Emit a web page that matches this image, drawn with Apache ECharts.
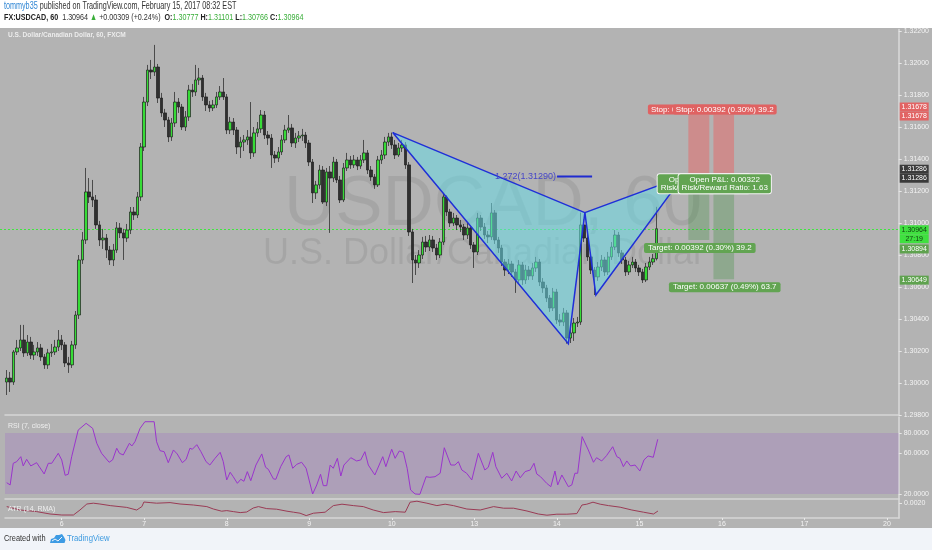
<!DOCTYPE html>
<html><head><meta charset="utf-8">
<script src="https://cdn.jsdelivr.net/npm/echarts@6/dist/echarts.min.js"></script>
<style>html,body{margin:0;padding:0;background:#b3b3b3;}#c{width:932px;height:550px;}</style>
</head><body><div id="c"></div>
<script>
// ---------- DATA ----------
const days = ['5','6','7','8','9','10','13','14','15','16','17','20'];
const firstHour = 8;
const slotCount = 260;

const open = [
1.30006,1.30031,1.30006,1.30194,1.30219,1.30269,1.30188,1.30256,1.30175,1.30194,
1.30219,1.30163,1.30113,1.30188,1.30194,1.30225,1.30269,1.30238,1.30125,1.30113,
1.30238,1.30425,1.30769,1.30894,1.31194,1.31163,1.31144,1.30988,1.30894,1.30906,
1.30831,1.30769,1.30831,1.30969,1.30938,1.30906,1.30956,1.31069,1.31050,1.31163,
1.31475,1.31756,1.31956,1.31944,1.31975,1.31781,1.31688,1.31644,1.31538,1.31625,
1.31756,1.31725,1.31600,1.31663,1.31831,1.31819,1.31894,1.31906,1.31788,1.31738,
1.31719,1.31738,1.31788,1.31819,1.31788,1.31581,1.31631,1.31581,1.31475,1.31506,
1.31519,1.31538,1.31438,1.31563,1.31588,1.31675,1.31550,1.31531,1.31425,1.31406,
1.31444,1.31519,1.31581,1.31594,1.31500,1.31531,1.31544,1.31550,1.31500,1.31381,
1.31188,1.31238,1.31331,1.31131,1.31319,1.31281,1.31381,1.31269,1.31144,1.31344,
1.31394,1.31363,1.31394,1.31356,1.31394,1.31438,1.31331,1.31288,1.31238,1.31394,
1.31425,1.31506,1.31538,1.31488,1.31425,1.31469,1.31488,1.31363,1.30944,1.30769,
1.30750,1.30800,1.30881,1.30850,1.30894,1.30844,1.30800,1.30881,1.31163,1.31069,
1.31000,1.31031,1.30988,1.30975,1.30925,1.30969,1.30863,1.30819,1.31031,1.30975,
1.30925,1.30913,1.31063,1.30894,1.30844,1.30756,1.30706,1.30744,1.30694,1.30644,
1.30738,1.30644,1.30706,1.30669,1.30719,1.30756,1.30631,1.30594,1.30531,1.30469,
1.30569,1.30394,1.30381,1.30438,1.30281,1.30313,1.30375,1.30381,1.30988,1.30906,
1.30788,1.30706,1.30663,1.30725,1.30769,1.30694,1.30788,1.30850,1.30925,1.30813,
1.30769,1.30694,1.30738,1.30756,1.30719,1.30694,1.30644,1.30725,1.30756,1.30777];

const close = [
1.30031,1.30006,1.30194,1.30219,1.30269,1.30188,1.30256,1.30175,1.30194,1.30219,
1.30163,1.30113,1.30188,1.30194,1.30225,1.30269,1.30238,1.30125,1.30113,1.30238,
1.30425,1.30769,1.30894,1.31194,1.31163,1.31144,1.30988,1.30894,1.30906,1.30831,
1.30769,1.30831,1.30969,1.30938,1.30906,1.30956,1.31069,1.31050,1.31163,1.31475,
1.31756,1.31956,1.31944,1.31975,1.31781,1.31688,1.31644,1.31538,1.31625,1.31756,
1.31725,1.31600,1.31663,1.31831,1.31819,1.31894,1.31906,1.31788,1.31738,1.31719,
1.31738,1.31788,1.31819,1.31788,1.31581,1.31631,1.31581,1.31475,1.31506,1.31519,
1.31538,1.31438,1.31563,1.31588,1.31675,1.31550,1.31531,1.31425,1.31406,1.31444,
1.31519,1.31581,1.31594,1.31500,1.31531,1.31544,1.31550,1.31500,1.31381,1.31188,
1.31238,1.31331,1.31131,1.31319,1.31281,1.31381,1.31269,1.31144,1.31344,1.31394,
1.31363,1.31394,1.31356,1.31394,1.31438,1.31331,1.31288,1.31238,1.31394,1.31425,
1.31506,1.31538,1.31488,1.31425,1.31469,1.31488,1.31363,1.30944,1.30769,1.30750,
1.30800,1.30881,1.30850,1.30894,1.30844,1.30800,1.30881,1.31163,1.31069,1.31000,
1.31031,1.30988,1.30975,1.30925,1.30969,1.30863,1.30819,1.31031,1.30975,1.30925,
1.30913,1.31063,1.30894,1.30844,1.30756,1.30706,1.30744,1.30694,1.30644,1.30738,
1.30644,1.30706,1.30669,1.30719,1.30756,1.30631,1.30594,1.30531,1.30469,1.30569,
1.30394,1.30381,1.30438,1.30281,1.30313,1.30375,1.30381,1.30988,1.30906,1.30788,
1.30706,1.30663,1.30725,1.30769,1.30694,1.30788,1.30850,1.30925,1.30813,1.30769,
1.30694,1.30738,1.30756,1.30719,1.30694,1.30644,1.30725,1.30756,1.30777,1.30964];

const high = [
1.30081,1.30069,1.30206,1.30269,1.30363,1.30363,1.30300,1.30288,1.30238,1.30256,
1.30244,1.30181,1.30213,1.30244,1.30269,1.30331,1.30300,1.30256,1.30163,1.30263,
1.30450,1.30800,1.30944,1.31344,1.31281,1.31269,1.31175,1.31013,1.30963,1.30931,
1.30856,1.30869,1.31006,1.31000,1.30963,1.30994,1.31100,1.31100,1.31194,1.31500,
1.31788,1.31988,1.32019,1.32113,1.31994,1.31813,1.31713,1.31663,1.31656,1.31819,
1.31781,1.31744,1.31700,1.31863,1.31869,1.31988,1.31969,1.31925,1.31813,1.31763,
1.31769,1.31819,1.31856,1.31906,1.31806,1.31663,1.31656,1.31600,1.31538,1.31550,
1.31581,1.31756,1.31600,1.31631,1.31706,1.31700,1.31575,1.31556,1.31450,1.31475,
1.31550,1.31613,1.31675,1.31619,1.31563,1.31575,1.31588,1.31569,1.31519,1.31400,
1.31263,1.31363,1.31356,1.31344,1.31356,1.31413,1.31400,1.31294,1.31375,1.31438,
1.31419,1.31425,1.31413,1.31425,1.31519,1.31456,1.31356,1.31306,1.31419,1.31456,
1.31538,1.31563,1.31565,1.31519,1.31500,1.31519,1.31506,1.31381,1.30963,1.30800,
1.30831,1.30913,1.30919,1.30925,1.30919,1.30869,1.30906,1.31188,1.31175,1.31088,
1.31063,1.31050,1.31019,1.30994,1.31000,1.30988,1.30881,1.31063,1.31050,1.31000,
1.30950,1.31125,1.31081,1.30913,1.30863,1.30775,1.30775,1.30763,1.30713,1.30769,
1.30756,1.30738,1.30731,1.30750,1.30788,1.30775,1.30656,1.30613,1.30550,1.30594,
1.30588,1.30431,1.30469,1.30456,1.30344,1.30406,1.30413,1.31065,1.31025,1.30931,
1.30806,1.30725,1.30756,1.30800,1.30788,1.30819,1.30881,1.30956,1.30944,1.30831,
1.30788,1.30763,1.30788,1.30775,1.30738,1.30713,1.30750,1.30788,1.30806,1.31101];

const low = [
1.29925,1.29944,1.29988,1.30175,1.30200,1.30163,1.30169,1.30150,1.30144,1.30169,
1.30138,1.30088,1.30088,1.30163,1.30175,1.30200,1.30206,1.30100,1.30063,1.30094,
1.30213,1.30400,1.30744,1.30869,1.31125,1.31100,1.30963,1.30856,1.30838,1.30781,
1.30738,1.30731,1.30813,1.30906,1.30769,1.30881,1.30931,1.31019,1.31031,1.31138,
1.31450,1.31731,1.31900,1.31919,1.31750,1.31663,1.31600,1.31506,1.31513,1.31600,
1.31688,1.31581,1.31575,1.31638,1.31788,1.31794,1.31863,1.31763,1.31700,1.31694,
1.31700,1.31719,1.31769,1.31769,1.31556,1.31556,1.31550,1.31431,1.31406,1.31450,
1.31488,1.31400,1.31413,1.31538,1.31563,1.31525,1.31488,1.31344,1.31375,1.31381,
1.31425,1.31500,1.31563,1.31475,1.31469,1.31506,1.31513,1.31469,1.31356,1.31125,
1.31150,1.31213,1.31119,1.31106,1.30938,1.31256,1.31250,1.31125,1.31131,1.31325,
1.31338,1.31344,1.31331,1.31338,1.31375,1.31306,1.31263,1.31213,1.31225,1.31369,
1.31400,1.31481,1.31463,1.31400,1.31413,1.31444,1.31338,1.30919,1.30625,1.30675,
1.30719,1.30775,1.30819,1.30825,1.30819,1.30769,1.30781,1.30863,1.31044,1.30975,
1.30981,1.30956,1.30944,1.30894,1.30900,1.30838,1.30719,1.30800,1.30950,1.30900,
1.30875,1.30894,1.30869,1.30813,1.30731,1.30669,1.30681,1.30663,1.30563,1.30619,
1.30613,1.30619,1.30644,1.30644,1.30694,1.30606,1.30563,1.30506,1.30444,1.30450,
1.30369,1.30356,1.30356,1.30246,1.30250,1.30263,1.30350,1.30363,1.30881,1.30763,
1.30681,1.30550,1.30638,1.30700,1.30669,1.30675,1.30769,1.30831,1.30788,1.30744,
1.30669,1.30675,1.30719,1.30694,1.30669,1.30625,1.30631,1.30706,1.30738,1.30766];

// RSI (7, close) read as [bar position, value]
const rsi = [
[0,31.1],[1.0,28.9],[1.9,50.2],[2.9,51.8],[4.1,56.7],[4.8,47.6],[5.8,54.1],[7.0,47.6],[8.7,50.8],[10.9,39.7],
[12.1,50.2],[13.1,50.2],[15.0,60.0],[16.0,53.5],[17.0,38.4],[17.9,39.4],[18.9,56.7],[20.8,82.9],[23.1,89.5],[25.0,84.6],
[26.2,69.9],[27.6,60.0],[29.8,51.2],[30.8,53.5],[32.0,65.0],[32.8,60.0],[33.9,58.4],[35.7,69.9],[36.4,67.2],[37.3,71.4],
[38.8,84.6],[40.2,91.1],[42.9,91.1],[43.6,71.4],[44.6,62.6],[45.8,61.6],[47.0,50.8],[48.5,63.3],[49.6,59.4],[51.1,50.8],
[52.2,54.1],[53.3,65.0],[54.0,64.0],[55.3,68.5],[56.5,61.6],[58.0,51.8],[59.1,48.5],[60.6,55.1],[62.1,61.0],[63.0,51.8],
[64.0,33.8],[65.0,41.4],[65.9,37.0],[67.1,30.5],[68.1,34.5],[69.0,32.5],[70.0,42.0],[71.0,33.1],[72.5,48.5],[74.2,59.4],
[75.3,46.3],[76.1,44.3],[77.6,34.8],[78.3,34.5],[79.7,46.9],[81.3,56.7],[82.1,58.4],[83.2,45.3],[84.4,49.2],[85.8,51.2],
[87.1,45.3],[89.0,20.0],[90.2,28.9],[91.3,39.4],[92.1,28.2],[93.1,28.2],[94.1,48.5],[95.0,45.3],[96.2,55.1],[97.2,37.7],
[98.1,48.5],[100.1,55.7],[101.8,52.5],[103.0,53.5],[104.2,61.6],[105.2,48.5],[107.1,38.7],[109.4,56.7],[110.3,46.9],[112.0,64.0],
[113.0,55.1],[114.2,62.3],[115.4,61.0],[116.5,45.3],[117.5,24.0],[118.8,20.0],[120.2,19.7],[122.0,37.0],[123.1,36.4],[124.6,37.0],
[126.1,40.4],[127.3,65.5],[129.2,48.5],[130.4,48.5],[131.4,51.8],[132.4,43.6],[133.8,40.4],[135.3,33.8],[137.2,60.0],[139.1,43.6],
[140.1,46.3],[141.4,61.0],[142.3,46.9],[144.0,35.5],[145.5,40.4],[146.9,32.8],[148.2,42.6],[149.4,36.0],[150.8,42.0],[152.3,43.6],
[153.4,50.2],[154.2,39.7],[155.3,37.0],[157.1,30.5],[158.3,27.2],[159.5,42.6],[160.3,28.9],[161.5,38.7],[163.4,27.2],[164.4,28.9],
[165.3,40.4],[166.1,40.4],[167.4,76.4],[169.2,63.3],[170.7,51.2],[171.6,55.7],[173.1,52.5],[174.5,57.7],[176.3,66.5],[177.5,56.7],
[178.4,55.1],[179.4,46.9],[180.4,52.5],[181.5,47.6],[182.8,48.5],[184.2,42.6],[185.4,53.5],[186.6,57.4],[188.1,56.1],[189.4,73.8]];

// ATR (14, RMA) read as [bar position, value]
const atr = [
[0,0.00182],[3.9,0.00165],[8.7,0.00157],[12.6,0.00145],[16.0,0.00140],[19.4,0.00140],[21.3,0.00165],[23.3,0.00195],[25.2,0.00199],[27.1,0.00195],
[30.1,0.00187],[34.9,0.00178],[37.8,0.00165],[39.3,0.00182],[39.9,0.00205],[41.7,0.00202],[43.6,0.00199],[47.5,0.00202],[50.4,0.00195],[54.3,0.00190],
[58.2,0.00182],[60.1,0.00170],[62.5,0.00159],[64.0,0.00162],[65.9,0.00157],[67.9,0.00152],[69.8,0.00155],[71.7,0.00175],[73.2,0.00182],[75.6,0.00172],
[78.5,0.00169],[81.5,0.00159],[83.4,0.00154],[85.3,0.00149],[87.1,0.00137],[89.2,0.00149],[92.6,0.00154],[95.0,0.00187],[97.5,0.00194],[100.8,0.00187],
[103.7,0.00182],[106.6,0.00165],[109.6,0.00152],[113.0,0.00157],[115.9,0.00154],[117.3,0.00204],[119.3,0.00209],[122.2,0.00199],[125.1,0.00187],[127.5,0.00194],
[129.9,0.00187],[133.8,0.00170],[137.7,0.00165],[141.6,0.00182],[144.5,0.00174],[147.4,0.00174],[151.3,0.00160],[154.6,0.00145],[157.1,0.00139],[160.0,0.00144],
[162.9,0.00144],[165.8,0.00147],[167.3,0.00190],[168.7,0.00194],[170.5,0.00204],[172.6,0.00194],[175.0,0.00187],[178.4,0.00179],[181.8,0.00165],[185.2,0.00154],
[188.1,0.00145],[189.4,0.00160]];

const lastPrice = 1.30964;
const countdown = '27:19';
// harmonic pattern X, A, B, C, D
const patternX = [112.3, 163.4, 168.2, 171.4, 196.7];
const patternY = [1.31565, 1.30246, 1.31065, 1.30550, 1.31290];
const fibLevel = 1.31290, fibFrom = 160.1, fibTo = 170.3, fibText = '1.272(1.31290)';
// two short positions
const entryPrice = 1.31286, stopPrice = 1.31678;
const targetPrices = [1.30894, 1.30649];
const posFrom = [198.3, 205.6], posTo = [204.4, 211.6];
const stopTexts = ['Stop: 0.00392 (0.30%) 39.2', 'Stop: 0.00392 (0.30%) 39.2'];
const targetTexts = ['Target: 0.00392 (0.30%) 39.2', 'Target: 0.00637 (0.49%) 63.7'];
const pnlTexts = ['Open P&L: 0.00322\nRisk/Reward Ratio: 1.00', 'Open P&L: 0.00322\nRisk/Reward Ratio: 1.63'];
const tagPrices = [stopPrice, stopPrice, entryPrice, entryPrice, lastPrice, lastPrice, targetPrices[0], targetPrices[1]];
const tagTexts = ['1.31678','1.31678','1.31286','1.31286','1.30964', countdown, '1.30894','1.30649'];
const rsiTicks = [20, 60, 80];
const atrTicks = [0.002];

// ---------- STYLE ----------
const F = 'Liberation Sans';
const tagShift = [-7.5, 1.5, -8, 1, 1, 10, 9, 1];
const tagFill = ['#e26464','#e26464','#3b3b3b','#3b3b3b','#3fe03f','#3fe03f','#5fa24f','#5fa24f'];
const tagInk = ['#fff','#fff','#fff','#fff','#124212','#124212','#fff','#fff'];

const categories = [];
for (let d = 0; d < days.length && categories.length < slotCount; d++) {
  for (let h = (d === 0 ? firstHour : 0); h < 24 && categories.length < slotCount; h++) {
    categories.push(days[d] + ' ' + String(h).padStart(2, '0') + ':00');
  }
}
const candles = close.map((c, i) => [open[i], c, low[i], high[i]]);
const isDayStart = (i, v) => String(v).endsWith(' 00:00');

function renderPattern(params, api) {
  if (params.dataIndex !== 0) return;
  const p = patternX.map((x, i) => api.coord([x, patternY[i]]));
  const fill = 'rgba(105,218,230,0.55)', stroke = '#1f2fd8';
  return { type: 'group', children: [
    { type: 'polygon', shape: { points: [p[0], p[1], p[2]] }, style: { fill } },
    { type: 'polygon', shape: { points: [p[2], p[3], p[4]] }, style: { fill } },
    { type: 'polyline', shape: { points: [p[0], p[1], p[2], p[0]] }, style: { stroke, lineWidth: 1.5, fill: null } },
    { type: 'polyline', shape: { points: [p[2], p[3], p[4], p[2]] }, style: { stroke, lineWidth: 1.5, fill: null } }
  ] };
}
function renderFib(params, api) {
  if (params.dataIndex !== 0) return;
  const a = api.coord([fibFrom, fibLevel]), b = api.coord([fibTo, fibLevel]);
  return { type: 'group', children: [
    { type: 'line', shape: { x1: a[0], y1: a[1], x2: b[0], y2: b[1] }, style: { stroke: '#1f2bd0', lineWidth: 2 } },
    { type: 'text', x: a[0] - 1, y: a[1], style: { text: fibText, fill: '#4646c8', font: '9px ' + F, align: 'right', verticalAlign: 'middle' } }
  ] };
}
function renderPositions(params, api) {
  if (params.dataIndex !== 0) return;
  const ch = [];
  for (let k = 0; k < posFrom.length; k++) {
    const s = api.coord([posFrom[k], stopPrice]);
    const e = api.coord([posTo[k], entryPrice]);
    const t = api.coord([posTo[k], targetPrices[k]]);
    ch.push({ type: 'rect', shape: { x: s[0], y: s[1], width: e[0] - s[0], height: e[1] - s[1] }, style: { fill: 'rgba(255,70,70,0.35)' } });
    ch.push({ type: 'rect', shape: { x: s[0], y: e[1], width: e[0] - s[0], height: t[1] - e[1] }, style: { fill: 'rgba(40,140,40,0.26)' } });
  }
  for (let k = 0; k < posFrom.length; k++) {
    const cx = api.coord([(posFrom[k] + posTo[k]) / 2, entryPrice])[0] + 1;
    const ys = api.coord([0, stopPrice])[1];
    const ye = api.coord([0, entryPrice])[1];
    const yt = api.coord([0, targetPrices[k]])[1];
    ch.push({ type: 'text', x: cx, y: ys, z2: 10 + k, style: { text: stopTexts[k], fill: '#fff', font: '8px ' + F, align: 'center', verticalAlign: 'bottom', backgroundColor: '#e06262', padding: [1, 3, 1, 3], borderRadius: 2 } });
    ch.push({ type: 'text', x: cx, y: yt + 3, z2: 10 + k, style: { text: targetTexts[k], fill: '#fff', font: '8px ' + F, align: 'center', verticalAlign: 'top', backgroundColor: '#62a452', padding: [1, 4, 1, 4], borderRadius: 2 } });
    ch.push({ type: 'text', x: cx + 4 * (1 - k), y: ye - 3, z2: 20 + k, style: { text: pnlTexts[k], fill: '#fff', font: '8px ' + F, lineHeight: 8.5, align: 'center', verticalAlign: 'top', backgroundColor: '#62a452', borderColor: '#f4f4f4', borderWidth: 1, padding: [1, 3, 1, 3], borderRadius: 2 } });
  }
  return { type: 'group', children: ch };
}
function renderLastPrice(params, api) {
  if (params.dataIndex !== 0) return;
  const a = api.coord([-0.5, lastPrice]), b = api.coord([slotCount - 0.5, lastPrice]);
  return { type: 'line', shape: { x1: 0, y1: Math.round(a[1]) + 0.5, x2: b[0], y2: Math.round(a[1]) + 0.5 },
    style: { stroke: '#3fe63f', lineWidth: 1, lineDash: [2, 2] } };
}
function renderTags(params, api) {
  if (params.dataIndex !== 0) return;
  const ch = [];
  const x0 = api.coord([slotCount - 0.5, lastPrice])[0];
  for (let k = 0; k < tagPrices.length; k++) {
    const y = api.coord([0, tagPrices[k]])[1] + tagShift[k];
    ch.push({ type: 'rect', shape: { x: x0 + 1, y: y - 4.5, width: 29, height: 9 }, style: { fill: tagFill[k] } });
    ch.push({ type: 'text', x: x0 + 15.5, y: y, style: { text: tagTexts[k], fill: tagInk[k], font: '7px ' + F, align: 'center', verticalAlign: 'middle' } });
  }
  return { type: 'group', children: ch };
}

const axisTextColor = '#f3f3f3';
const sepLine = { show: true, onZero: false, lineStyle: { color: '#d6d6d6', width: 1.5 } };
const rightLine = { show: true, onZero: false, lineStyle: { color: '#dadada', width: 1.5 } };

const option = {
  animation: false,
  backgroundColor: '#b3b3b3',
  grid: [
    { left: 5, width: 894, top: 29.4, height: 385.6 },
    { left: 5, width: 894, top: 417, height: 82 },
    { left: 5, width: 894, top: 499, height: 19 }
  ],
  xAxis: [
    { type: 'category', gridIndex: 0, data: categories, boundaryGap: true, axisLine: sepLine, axisTick: { show: false }, axisLabel: { show: false }, splitLine: { show: false } },
    { type: 'value', gridIndex: 0, min: -0.5, max: slotCount - 0.5, show: false, axisLine: { onZero: false } },
    { type: 'value', gridIndex: 1, min: -0.5, max: slotCount - 0.5, axisLine: sepLine, axisTick: { show: false }, axisLabel: { show: false }, splitLine: { show: false } },
    { type: 'category', gridIndex: 2, data: categories, boundaryGap: true, axisLine: sepLine,
      axisTick: { show: true, alignWithLabel: true, interval: isDayStart, length: 2, lineStyle: { color: '#e8e8e8' } },
      axisLabel: { interval: isDayStart, formatter: v => v.split(' ')[0], color: axisTextColor, fontSize: 7, fontFamily: F, margin: 3 },
      splitLine: { show: false } },
    { type: 'value', gridIndex: 2, min: -0.5, max: slotCount - 0.5, show: false, axisLine: { onZero: false } }
  ],
  yAxis: [
    { type: 'value', gridIndex: 0, position: 'right', min: 1.298, max: 1.3221, interval: 0.002,
      axisLine: rightLine,
      axisTick: { show: true, length: 3, lineStyle: { color: '#e6e6e6' } },
      axisLabel: { color: axisTextColor, fontSize: 7, fontFamily: F, margin: 5, showMaxLabel: false, formatter: v => v.toFixed(5) },
      splitLine: { show: false } },
    { type: 'value', gridIndex: 1, position: 'right', min: 15.08, max: 95.73,
      axisLine: rightLine,
      axisTick: { show: true, length: 3, customValues: rsiTicks, lineStyle: { color: '#e6e6e6' } },
      axisLabel: { customValues: rsiTicks, color: axisTextColor, fontSize: 7, fontFamily: F, margin: 5, formatter: v => v.toFixed(4) },
      splitLine: { show: false } },
    { type: 'value', gridIndex: 2, position: 'right', min: 0.00125, max: 0.0022,
      axisLine: rightLine,
      axisTick: { show: true, length: 3, customValues: atrTicks, lineStyle: { color: '#e6e6e6' } },
      axisLabel: { customValues: atrTicks, color: axisTextColor, fontSize: 7, fontFamily: F, margin: 5, formatter: v => v.toFixed(4) },
      splitLine: { show: false } }
  ],
  series: [
    { type: 'candlestick', name: 'USDCAD', xAxisIndex: 0, yAxisIndex: 0, data: candles, barWidth: '86%', z: 2,
      itemStyle: { color: '#36dc36', color0: '#303030', borderColor: '#1e1e1e', borderColor0: '#1e1e1e', borderWidth: 0.7 } },
    { type: 'custom', name: 'last price', xAxisIndex: 1, yAxisIndex: 0, z: 2, renderItem: renderLastPrice, clip: false,
      data: [[0, lastPrice]], encode: { x: 0, y: 1 } },
    { type: 'custom', name: 'pattern', xAxisIndex: 1, yAxisIndex: 0, z: 3, renderItem: renderPattern,
      data: patternX.map((x, i) => [x, patternY[i]]), encode: { x: 0, y: 1 } },
    { type: 'custom', name: 'fib', xAxisIndex: 1, yAxisIndex: 0, z: 4, renderItem: renderFib,
      data: [[fibFrom, fibLevel]], encode: { x: 0, y: 1 } },
    { type: 'custom', name: 'positions', xAxisIndex: 1, yAxisIndex: 0, z: 5, renderItem: renderPositions,
      data: [[posFrom[0], entryPrice]], encode: { x: 0, y: 1 } },
    { type: 'custom', name: 'tags', xAxisIndex: 1, yAxisIndex: 0, z: 6, renderItem: renderTags, clip: false,
      data: [[0, lastPrice]], encode: { x: 0, y: 1 } },
    { type: 'line', name: 'RSI', xAxisIndex: 2, yAxisIndex: 1, data: rsi, symbol: 'none', z: 3,
      lineStyle: { color: '#9a35cc', width: 1 },
      markArea: { silent: true, itemStyle: { color: 'rgba(150,80,205,0.2)' }, data: [[{ yAxis: 20 }, { yAxis: 80 }]] } },
    { type: 'line', name: 'ATR', xAxisIndex: 4, yAxisIndex: 2, data: atr, symbol: 'none', z: 3,
      lineStyle: { color: '#9a3b55', width: 1 } }
  ],
  graphic: [
    { type: 'text', z: 0, x: 493, y: 205, style: { text: 'USDCAD, 60', fill: 'rgba(0,0,0,0.075)', font: '71px ' + F, align: 'center', verticalAlign: 'middle' } },
    { type: 'text', z: 0, x: 484, y: 254, style: { text: 'U.S. Dollar/Canadian Dollar', fill: 'rgba(0,0,0,0.075)', font: '36px ' + F, align: 'center', verticalAlign: 'middle' } },
    { type: 'rect', z: 10, shape: { x: 0, y: 0, width: 932, height: 28 }, style: { fill: '#ffffff' } },
    { type: 'rect', z: 10, shape: { x: 0, y: 528, width: 932, height: 22 }, style: { fill: '#f1f4f9' } },
    { type: 'text', z: 11, x: 4, y: 6.5, scaleX: 0.7, style: { text: '{u|tommyb35} {t|published on TradingView.com, February 15, 2017 08:32 EST}',
      font: '10.3px ' + F, verticalAlign: 'middle', rich: { u: { fill: '#2f86d4', fontSize: 10.3, fontFamily: F }, t: { fill: '#333', fontSize: 10.3, fontFamily: F } } } },
    { type: 'text', z: 11, x: 4, y: 17, scaleX: 0.74, style: { text: '{b|FX:USDCAD, 60}  {n|1.30964} {g|▲} {n|+0.00309 (+0.24%)}  {b|O:}{g|1.30777} {b|H:}{g|1.31101} {b|L:}{g|1.30766} {b|C:}{g|1.30964}',
      font: '9.7px ' + F, verticalAlign: 'middle', rich: {
        b: { fill: '#222', fontWeight: 'bold', fontSize: 9.7, fontFamily: F },
        n: { fill: '#333', fontSize: 9.7, fontFamily: F },
        g: { fill: '#3aae3a', fontSize: 9.7, fontFamily: F } } } },
    { type: 'text', z: 11, x: 8, y: 34.5, scaleX: 0.82, style: { text: 'U.S. Dollar/Canadian Dollar, 60, FXCM', fill: '#ececec', font: 'bold 8px ' + F, verticalAlign: 'middle' } },
    { type: 'text', z: 11, x: 8, y: 426.5, style: { text: 'RSI (7, close)', fill: '#eeeeee', font: '7px ' + F, verticalAlign: 'middle' } },
    { type: 'text', z: 11, x: 8, y: 509, style: { text: 'ATR (14, RMA)', fill: '#eeeeee', font: '7px ' + F, verticalAlign: 'middle' } },
    { type: 'text', z: 11, x: 4, y: 539, scaleX: 0.87, style: { text: 'Created with', fill: '#333', font: '8.5px ' + F, verticalAlign: 'middle' } },
    { type: 'polygon', z: 11, shape: { points: [[50,543],[51,539],[54,538],[56,535],[59,535],[62,534],[64,537],[65.5,540],[64.5,543]] }, style: { fill: '#3d9be4' } },
    { type: 'polyline', z: 12, shape: { points: [[52,541],[55,539],[58,541],[62,537]] }, style: { stroke: '#f1f4f9', lineWidth: 1, fill: null } },
    { type: 'text', z: 11, x: 67, y: 539, scaleX: 0.86, style: { text: 'TradingView', fill: '#3d9ae0', font: '9px ' + F, verticalAlign: 'middle' } }
  ]
};

const chart = echarts.init(document.getElementById('c'), null, { renderer: 'canvas', width: 932, height: 550 });
chart.setOption(option);
</script>
</body></html>
